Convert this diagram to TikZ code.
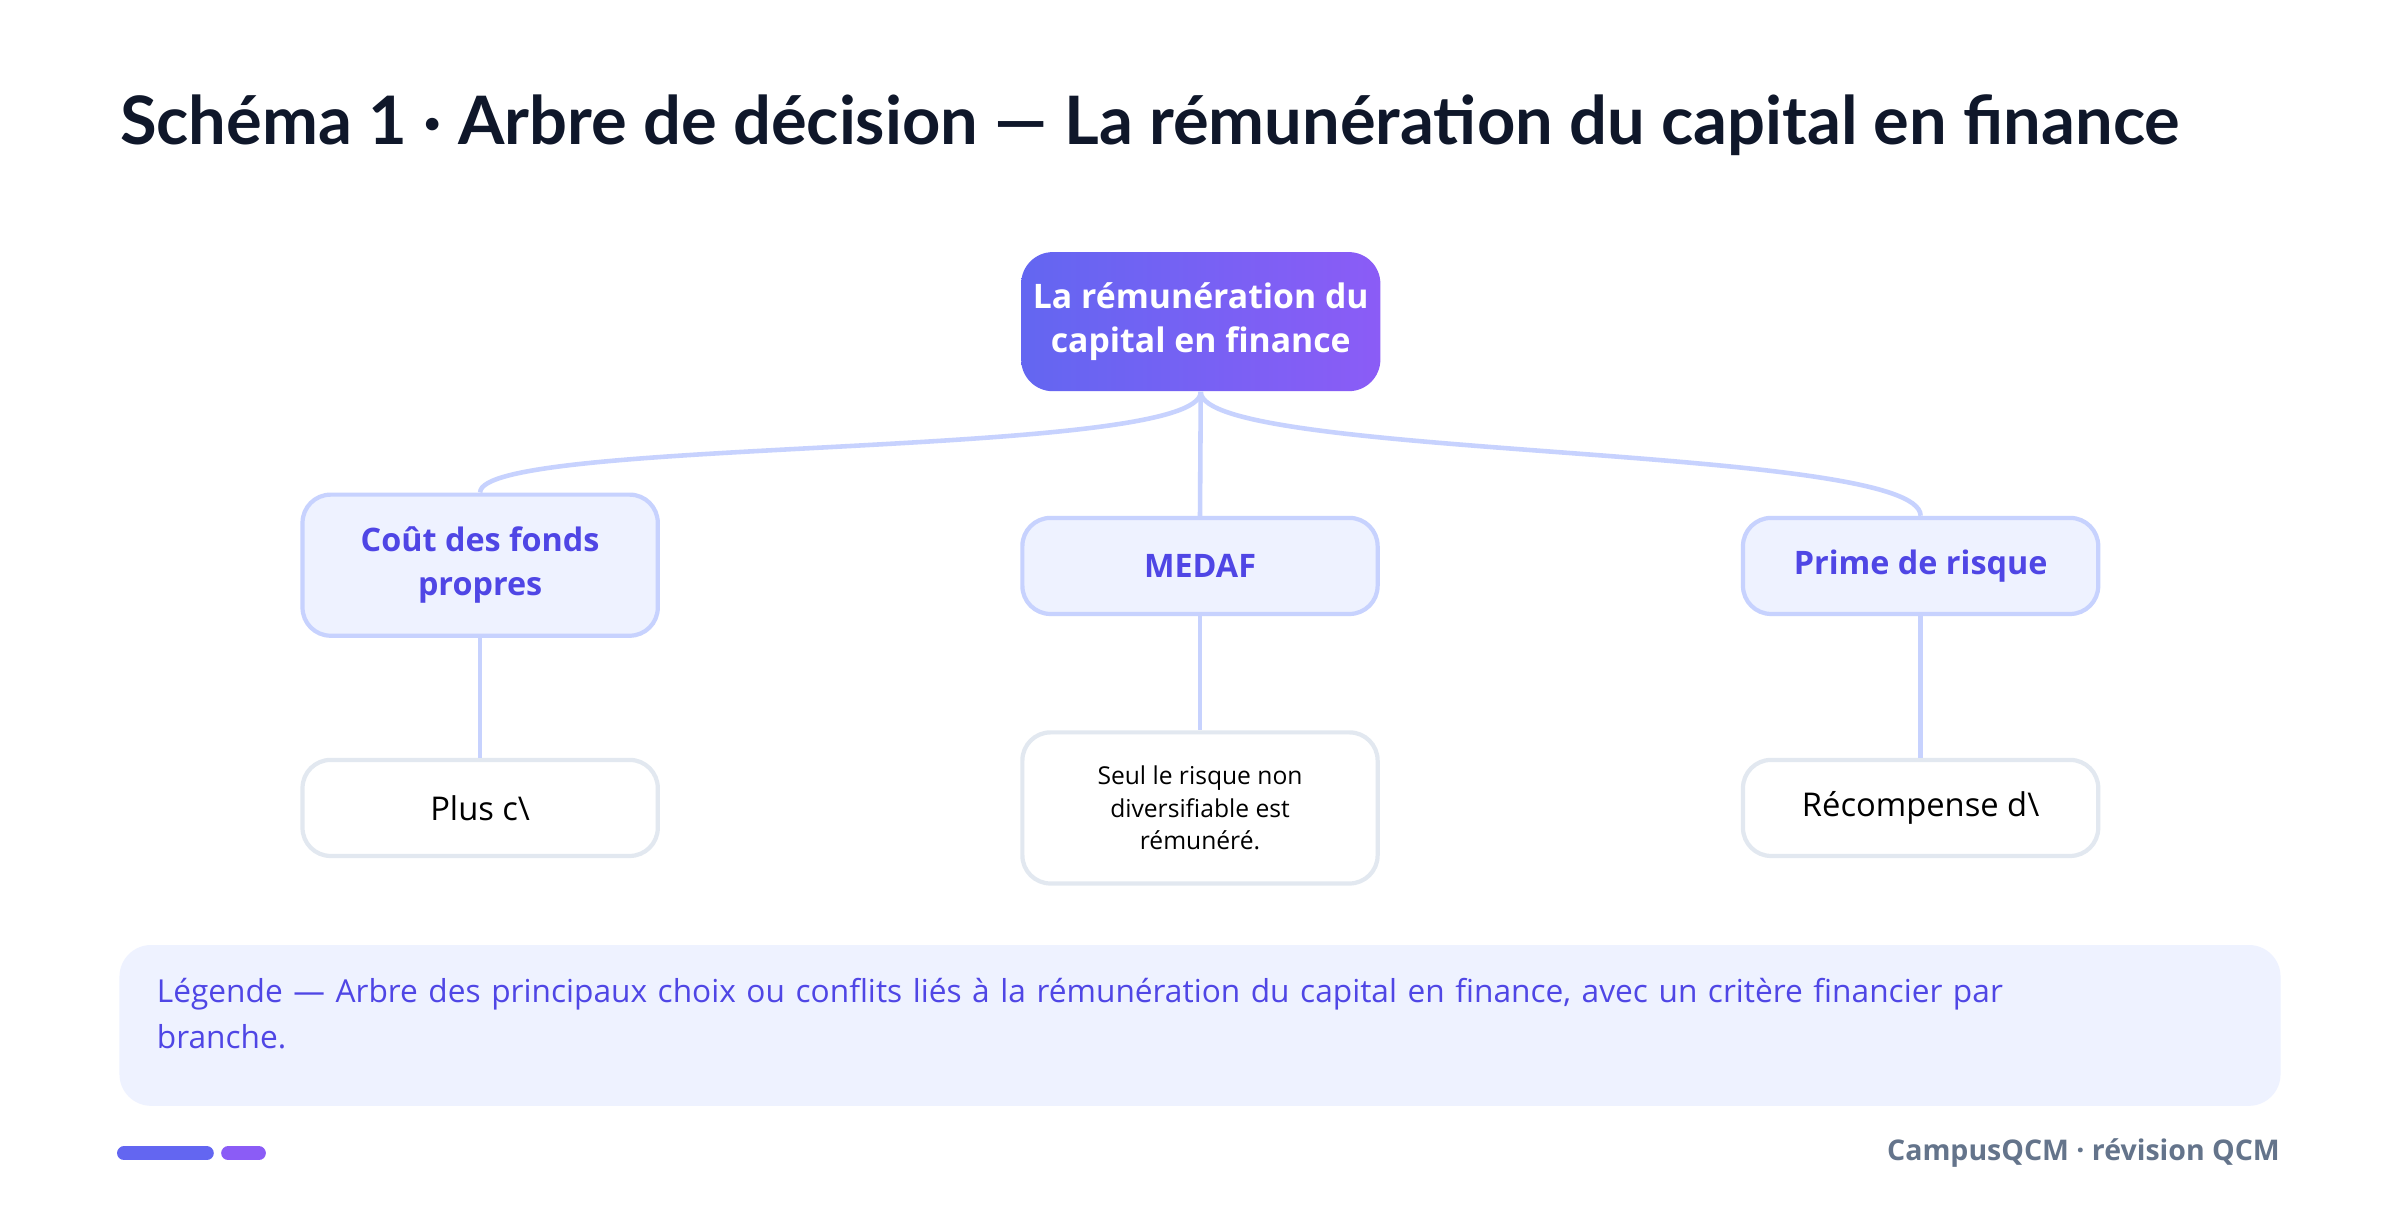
\documentclass[tikz,border=0pt]{standalone}
\usepackage{fontspec}
\setmainfont{Open Sans}
\newfontfamily\titlefont{Lato}
\usetikzlibrary{positioning}
\definecolor{ink}{RGB}{15,23,42}
\definecolor{indigo}{RGB}{79,70,229}
\definecolor{violet}{RGB}{139,92,246}
\definecolor{blueish}{RGB}{99,102,241}
\definecolor{pale}{RGB}{238,242,255}
\definecolor{edge_line}{RGB}{199,210,254}
\definecolor{leaf_gray}{RGB}{226,232,240}
\definecolor{foot_gray}{RGB}{100,116,139}

\begin{document}
\begin{tikzpicture}[x=0.01531cm,y=-0.01531cm]
    \tikzstyle{root}=[rounded corners=9pt, left color=blueish, right color=violet, draw=none, text=white,
      font=\bfseries\fontsize{9.6}{12.5}\selectfont, align=center]
    \tikzstyle{branch}=[rounded corners=8pt, fill=pale, draw=edge_line, line width=1.2pt, text=indigo,
      font=\bfseries\fontsize{9.2}{12.5}\selectfont, align=center]
    \tikzstyle{leaf}=[rounded corners=8pt, fill=white, draw=leaf_gray, line width=1.2pt, text=black,
      align=center]
    \tikzstyle{link}=[draw=edge_line, line width=1.3pt]

    \useasboundingbox (0,0) rectangle (1567,793);
    \fill[white] (0,0) rectangle (1567,793);

    \node[anchor=west, text=ink, inner sep=0pt, font=\titlefont\bfseries\fontsize{19}{22}\selectfont] (title) at (78,82)
      {Schéma 1 · Arbre de décision — La rémunération du capital en finance};

    \node[root, minimum width=3.55cm, minimum height=1.39cm] (top) at (784,210)
      {La rémunération du\\capital en finance};
    \node[branch, minimum width=3.55cm, minimum height=1.41cm] (coe) at (313.5,369) {Coût des fonds\\propres};
    \node[branch, minimum width=3.55cm, minimum height=0.96cm] (medaf) at (783.5,369.5) {MEDAF};
    \node[branch, minimum width=3.55cm, minimum height=0.96cm] (prime) at (1254,369.5) {Prime de risque};

    \node[leaf, minimum width=3.55cm, minimum height=0.96cm, font=\fontsize{9.3}{12}\selectfont] (l1) at (313.5,527.5) {Plus c\textbackslash};
    \node[leaf, minimum width=3.55cm, minimum height=1.51cm, font=\fontsize{7}{9.2}\selectfont] (l2) at (783.5,527.5)
      {Seul le risque non\\diversifiable est\\rémunéré.};
    \node[leaf, minimum width=3.55cm, minimum height=0.96cm, font=\fontsize{9.3}{12}\selectfont] (l3) at (1254,527.5) {Récompense d\textbackslash};

    \path[link] (top.south) .. controls (784,300) and (313,285) .. (coe.north);
    \path[link] (top.south) -- (medaf.north);
    \path[link] (top.south) .. controls (784,300) and (1254,290) .. (prime.north);
    \path[link] (coe) -- (l1);
    \path[link] (medaf) -- (l2);
    \path[link] (prime) -- (l3);

    \fill[pale, rounded corners=9pt] (78,617) rectangle (1489,722);
    \node[anchor=north west, text=indigo, align=left, text width=18.6cm, inner sep=0pt,
      font=\fontsize{9}{13.2}\selectfont] (legend) at (102,638)
      {Légende — Arbre des principaux choix ou conflits liés à la rémunération du capital en finance, avec un critère financier par branche.};

    \draw[blueish, line width=4pt, line cap=round] (81,753) -- (135,753);
    \draw[violet, line width=4pt, line cap=round] (149,753) -- (169,753);
    \node[anchor=east, text=foot_gray, font=\bfseries\fontsize{8.1}{10}\selectfont, inner sep=0pt] (foot) at (1489,753)
      {CampusQCM · révision QCM};
\end{tikzpicture}
\end{document}
